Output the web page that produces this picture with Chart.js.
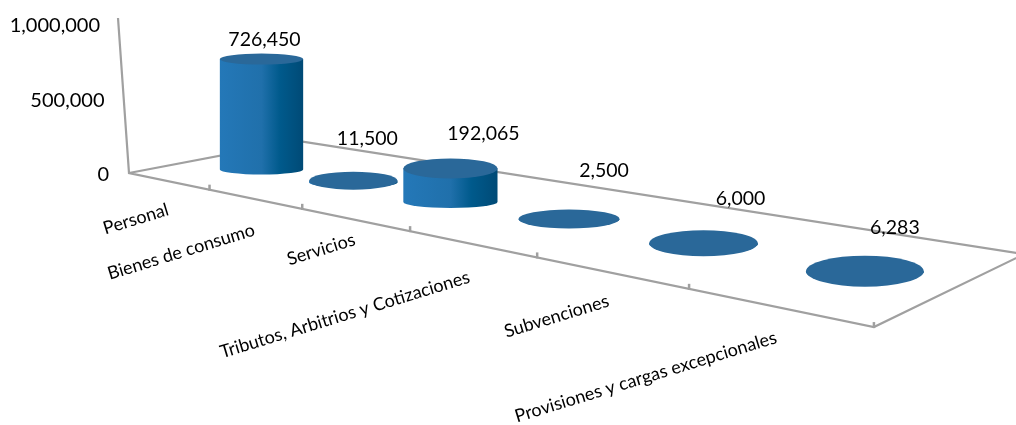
<!DOCTYPE html>
<html><head><meta charset="utf-8">
<style>html,body{margin:0;padding:0;background:#fff}#w{width:1016px;height:425px;position:relative}</style>
<script src="https://cdn.jsdelivr.net/npm/chart.js@4"></script>
</head><body><div id="w"><canvas id="c"></canvas></div>
<script>
const categories = ['Personal','Bienes de consumo','Servicios','Tributos, Arbitrios y Cotizaciones','Subvenciones','Provisiones y cargas excepcionales'];
const values = [726450,11500,192065,2500,6000,6283];
const valueTicks = [0,500000,1000000];

// styling of the perspective view
const capRy = [5.5,9,10,9.5,13,15.5];
const baseRy = [5,5,6,6,6,6];
const barNudge = [[2,1],[5,-1],[0,1],[0,-2],[-5,-1],[-10,-2]];
const valueLabelOffset = [[3,-19],[14,-42],[33,-35],[35,-48],[37,-45],[30,-43]];
const catLabelOffset = [[-32,38],[-73,53],[-33,30],[-126,71],[-53,44],[-131,70]];
const LINE = '#a0a0a0', TEXT = '#000';
const FONT = 'Lato, Carlito, sans-serif';
// floor homography: (u along the category axis, v depth)
const H = {a:400.6,b:200.7,c:129,d:25.2,e:-17,f:173,g:-0.394,h:0.107};
const W = (u,v)=>H.g*u+H.h*v+1;
const P = (u,v)=>{const w=W(u,v);return [(H.a*u+H.b*v+H.c)/w,(H.d*u+H.e*v+H.f)/w];};
const RX = 42, RXPOW = 0.88, DEPTH = 0.46, USHIFT = 0.018, HGAIN = 1.03;

const perspective = {
  id:'perspective',
  afterDraw(chart){
    const {ctx,scales:{x,y}} = chart;
    const meta = chart.getDatasetMeta(0);
    const n = categories.length;
    ctx.save();
    ctx.lineCap='butt';
    // value axis labels follow the slanted wall
    ctx.fillStyle=TEXT;ctx.font='20px '+FONT;ctx.textAlign='right';ctx.textBaseline='middle';
    y.ticks.forEach(t=>{
      ctx.fillText(Number(t.value).toLocaleString('en-US'),109-9*t.value/1000000,y.getPixelForValue(t.value));
    });
    ctx.strokeStyle=LINE; ctx.lineWidth=2.2;
    // frame
    const c00=P(0,0),c10=P(1,0),c11=P(1,1),c01=P(0,1);
    const top=(y.getPixelForValue(0)-y.getPixelForValue(1000000))*1.04;
    ctx.beginPath();
    ctx.moveTo(c00[0]-11,c00[1]-top); ctx.lineTo(c00[0],c00[1]);
    ctx.lineTo(c10[0],c10[1]); ctx.lineTo(c11[0],c11[1]); ctx.lineTo(c01[0],c01[1]); ctx.lineTo(c00[0],c00[1]);
    ctx.stroke();
    ctx.lineWidth=2.5;
    for(let i=1;i<=n;i++){const p=P(i/n,0);ctx.beginPath();ctx.moveTo(p[0],p[1]+1);ctx.lineTo(p[0],p[1]-5);ctx.stroke();}
    // cylinders
    meta.data.forEach((el,i)=>{
      const u=x.getDecimalForPixel(el.x)+USHIFT;
      const [px,fy]=P(u,DEPTH);
      const cx=px+barNudge[i][0];
      const by=fy+3-6*u+barNudge[i][1];
      const w=W(u,DEPTH);
      const rx=RX/Math.pow(w,RXPOW);
      const h=(y.getPixelForValue(0)-y.getPixelForValue(values[i]))*HGAIN/w;
      const ty=by-h;
      const g=ctx.createLinearGradient(cx-rx,0,cx+rx,0);
      g.addColorStop(0,'#2478b8');g.addColorStop(0.5,'#2070ab');g.addColorStop(0.72,'#005a8c');g.addColorStop(1,'#004a76');
      ctx.fillStyle=g;
      ctx.beginPath();
      ctx.moveTo(cx-rx,ty);ctx.lineTo(cx-rx,by);
      ctx.ellipse(cx,by,rx,baseRy[i],0,Math.PI,0,true);
      ctx.lineTo(cx+rx,ty);ctx.closePath();ctx.fill();
      ctx.fillStyle='#2a6899';
      ctx.beginPath();ctx.ellipse(cx,ty,rx,capRy[i],0,0,Math.PI*2);ctx.fill();
      // value label
      ctx.fillStyle=TEXT;ctx.font='19.5px '+FONT;ctx.textAlign='center';ctx.textBaseline='middle';
      ctx.fillText(values[i].toLocaleString('en-US'),cx+valueLabelOffset[i][0],ty+valueLabelOffset[i][1]);
      // category label
      const f=P(x.getDecimalForPixel(el.x),0);
      ctx.save();
      ctx.translate(f[0]+catLabelOffset[i][0],f[1]+catLabelOffset[i][1]);
      ctx.rotate(-17*Math.PI/180);
      ctx.font='18px '+FONT;
      ctx.fillText(categories[i],0,0);
      ctx.restore();
    });
    ctx.restore();
  }
};

new Chart(document.getElementById('c'),{
  type:'bar',
  data:{labels:categories,datasets:[{data:values,backgroundColor:'rgba(0,0,0,0)',borderWidth:0}]},
  plugins:[perspective],
  options:{
    responsive:true,maintainAspectRatio:false,animation:false,
    layout:{padding:{top:26,bottom:250,left:0,right:0}},
    plugins:{legend:{display:false},tooltip:{enabled:false},title:{display:false}},
    scales:{
      x:{display:false,grid:{display:false}},
      y:{min:0,max:1000000,
        afterFit(s){s.width=104;},
        afterBuildTicks(s){s.ticks=valueTicks.map(v=>({value:v}));},
        border:{display:false},
        grid:{display:false,drawTicks:false},
        ticks:{display:false}
      }
    }
  }
});
</script></body></html>
